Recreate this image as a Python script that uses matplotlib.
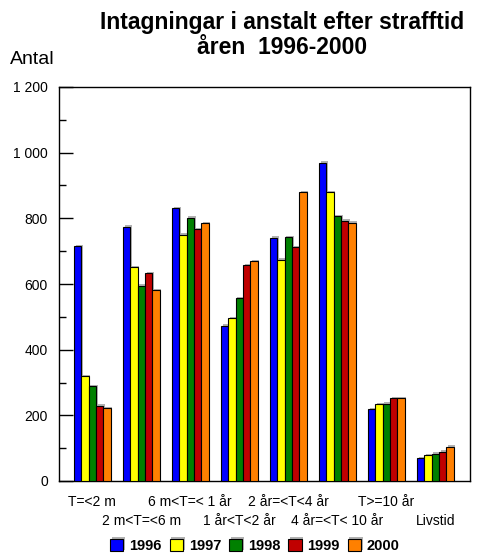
import matplotlib
matplotlib.use("Agg")
import matplotlib.pyplot as plt
import matplotlib.patheffects as pe
from matplotlib.ticker import MultipleLocator, FuncFormatter
import numpy as np

plt.rcParams['font.family'] = ['Liberation Sans', 'DejaVu Sans']

categories = ["T=<2 m", "2 m<T=<6 m", "6 m<T=< 1 år", "1 år<T<2 år",
              "2 år=<T<4 år", "4 år=<T< 10 år", "T>=10 år", "Livstid"]
years = ["1996", "1997", "1998", "1999", "2000"]
values = {
    "1996": [715, 775, 830, 473, 741, 969, 219, 70],
    "1997": [320, 652, 750, 495, 674, 880, 234, 79],
    "1998": [289, 595, 802, 556, 743, 807, 236, 83],
    "1999": [229, 633, 766, 657, 712, 793, 253, 89],
    "2000": [222, 582, 786, 669, 879, 787, 252, 104],
}
colors = ["#0000FF", "#FFFF00", "#008000", "#C00000", "#FF8000"]

fig = plt.figure(figsize=(4.83, 5.53), dpi=100)
ax = fig.add_axes([59/483, 1-481/553, (470-59)/483, (481-87)/553])

x = np.arange(len(categories))
w = 0.15
handles = []
for i, (yr, c) in enumerate(zip(years, colors)):
    bars = ax.bar(x + (i - 2) * w, values[yr], width=w, color=c,
                  edgecolor="black", linewidth=0.8, label=yr, zorder=3)
    for b in bars:
        b.set_path_effects([pe.SimplePatchShadow(offset=(1.2, 1.0), shadow_rgbFace="gray", alpha=0.6), pe.Normal()])
    handles.append(bars)

ax.set_xlim(-0.68, 7.71)
ax.set_ylim(0, 1200)
ax.yaxis.set_major_locator(MultipleLocator(200))
ax.yaxis.set_minor_locator(MultipleLocator(100))
ax.yaxis.set_major_formatter(FuncFormatter(lambda v, p: f"{int(v):,}".replace(",", " ")))
ax.tick_params(axis='y', which='major', direction='in', length=10, width=1, labelsize=10, pad=8)
ax.tick_params(axis='y', which='minor', direction='in', length=5, width=1)

# Two staggered rows of category labels: row 1 on major ticks, row 2 on minor ticks
ax.set_xticks(x[::2])
ax.set_xticklabels(categories[::2], fontsize=10)
ax.set_xticks(x[1::2], minor=True)
ax.set_xticklabels(categories[1::2], minor=True, fontsize=10)
ax.tick_params(axis='x', which='major', direction='in', length=6, width=1, pad=10)
ax.tick_params(axis='x', which='minor', direction='in', length=6, width=1, pad=24)
for s in ax.spines.values():
    s.set_linewidth(1)

fig.text(282/483, 1-22/553, "Intagningar i anstalt efter strafftid", ha="center", va="center",
         fontsize=16.5, fontweight="bold")
fig.text(282/483, 1-48/553, "åren  1996-2000", ha="center", va="center",
         fontsize=16.5, fontweight="bold")
fig.text(10/483, 1-60/553, "Antal", ha="left", va="center", fontsize=14)

leg = fig.legend(handles=[h.patches[0] for h in handles], labels=years, loc="center",
                 bbox_to_anchor=(255/483, 1-546/553), ncol=5, frameon=False,
                 prop={'weight': 'bold', 'size': 10.5}, handlelength=0.9, handleheight=0.95,
                 handletextpad=0.4, columnspacing=0.55, borderaxespad=0)

fig.savefig("out.png", dpi=100)
